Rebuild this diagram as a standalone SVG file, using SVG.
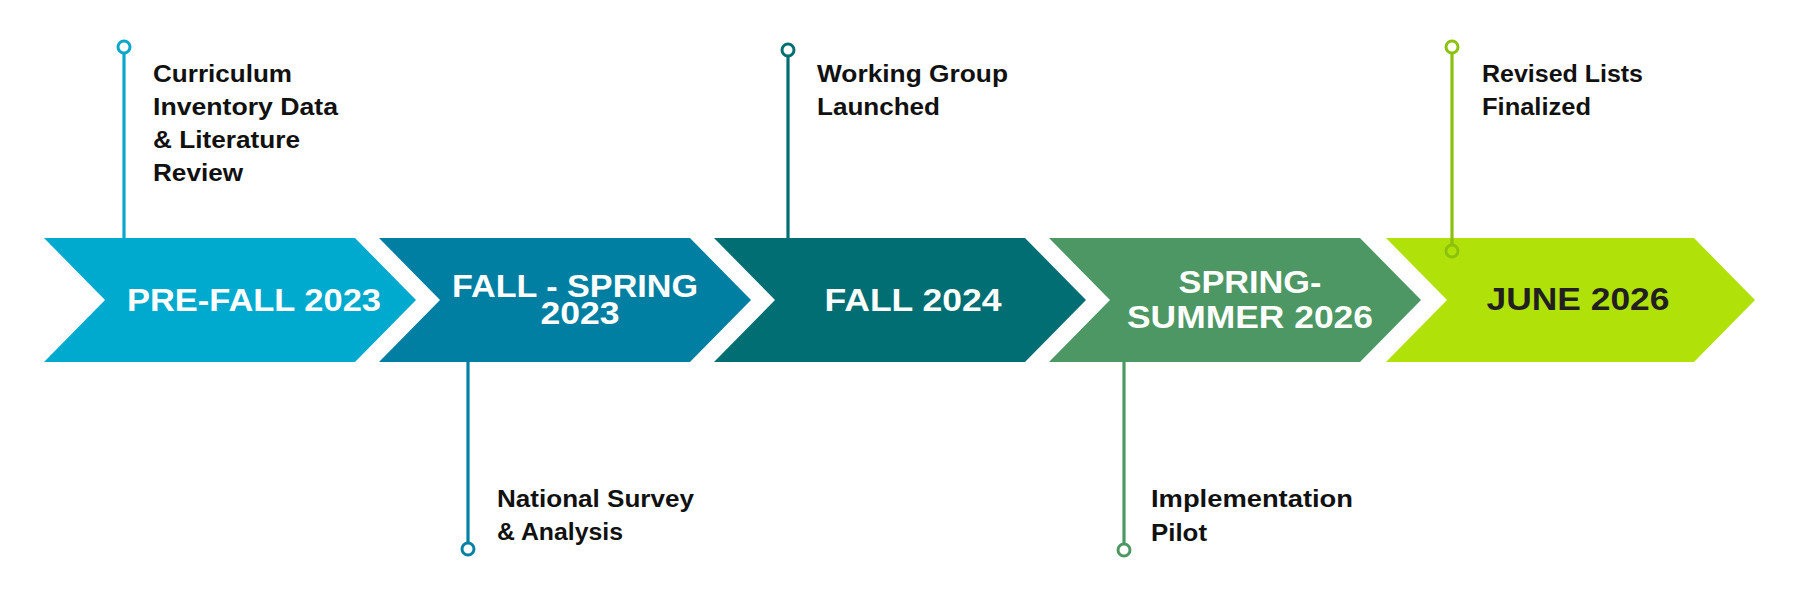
<svg xmlns="http://www.w3.org/2000/svg" width="1800" height="600" viewBox="0 0 1800 600">
<style>
.lbl{font-family:"Liberation Sans",Arial,sans-serif;font-weight:bold;font-size:31px;fill:#ffffff;text-anchor:middle}
.txt{font-family:"Liberation Sans",Arial,sans-serif;font-weight:bold;font-size:23px;fill:#111111}
.stem{stroke-width:3.2;fill:none}
.dot{stroke-width:3;fill:#ffffff}
</style>
<rect width="1800" height="600" fill="#ffffff"/>
<g id="connectors">
  <line class="stem" x1="124" y1="53" x2="124" y2="238" stroke="#0AA6CC"/>
  <circle class="dot" cx="124" cy="47" r="6" stroke="#0AA6CC"/>
  <line class="stem" x1="468" y1="362" x2="468" y2="543" stroke="#0581A5"/>
  <circle class="dot" cx="468" cy="549" r="6" stroke="#0581A5"/>
  <line class="stem" x1="788" y1="56" x2="788" y2="238" stroke="#006E72"/>
  <circle class="dot" cx="788" cy="50" r="6" stroke="#006E72"/>
  <line class="stem" x1="1124" y1="361" x2="1124" y2="544" stroke="#4C9763"/>
  <circle class="dot" cx="1124" cy="550" r="6" stroke="#4C9763"/>
</g>
<g id="n1">
  <polygon points="44,238 355,238 416,300 355,362 44,362 105,300" fill="#00AACE"/>
  <text class="lbl" x="254" y="311" textLength="254" lengthAdjust="spacingAndGlyphs">PRE-FALL 2023</text>
</g>
<g id="n2">
  <polygon points="379,238 690,238 751,300 690,362 379,362 440,300" fill="#007FA2"/>
  <text class="lbl" x="575" y="297" textLength="246" lengthAdjust="spacingAndGlyphs">FALL - SPRING</text>
  <text class="lbl" x="580" y="324" textLength="79" lengthAdjust="spacingAndGlyphs">2023</text>
</g>
<g id="n3">
  <polygon points="714,238 1025,238 1086,300 1025,362 714,362 775,300" fill="#006E72"/>
  <text class="lbl" x="913" y="311" textLength="177" lengthAdjust="spacingAndGlyphs">FALL 2024</text>
</g>
<g id="n4">
  <polygon points="1049,238 1360,238 1421,300 1360,362 1049,362 1110,300" fill="#4C9763"/>
  <text class="lbl" x="1250" y="293" textLength="143" lengthAdjust="spacingAndGlyphs">SPRING-</text>
  <text class="lbl" x="1250" y="328" textLength="246" lengthAdjust="spacingAndGlyphs">SUMMER 2026</text>
</g>
<g id="n5">
  <polygon points="1386,238 1694,238 1755,300 1694,362 1386,362 1447,300" fill="#B0E20A"/>
  <text class="lbl" x="1578" y="310" textLength="183" lengthAdjust="spacingAndGlyphs" style="fill:#231F20">JUNE 2026</text>
</g>
<g id="connector5">
  <line class="stem" x1="1452" y1="53" x2="1452" y2="245" stroke="#8CC10E"/>
  <circle class="dot" cx="1452" cy="47" r="6" stroke="#8CC10E"/>
  <circle cx="1452" cy="251" r="6" stroke="#8CC10E" stroke-width="3" fill="#B0E20A"/>
</g>
<g id="t1">
  <text class="txt" x="153" y="82" textLength="139" lengthAdjust="spacingAndGlyphs">Curriculum</text>
  <text class="txt" x="153" y="115" textLength="185" lengthAdjust="spacingAndGlyphs">Inventory Data</text>
  <text class="txt" x="153" y="148" textLength="147" lengthAdjust="spacingAndGlyphs">&amp; Literature</text>
  <text class="txt" x="153" y="181" textLength="90" lengthAdjust="spacingAndGlyphs">Review</text>
</g>
<g id="t2">
  <text class="txt" x="497" y="507" textLength="197" lengthAdjust="spacingAndGlyphs">National Survey</text>
  <text class="txt" x="497" y="540" textLength="126" lengthAdjust="spacingAndGlyphs">&amp; Analysis</text>
</g>
<g id="t3">
  <text class="txt" x="817" y="82" textLength="191" lengthAdjust="spacingAndGlyphs">Working Group</text>
  <text class="txt" x="817" y="115" textLength="123" lengthAdjust="spacingAndGlyphs">Launched</text>
</g>
<g id="t4">
  <text class="txt" x="1151" y="507" textLength="202" lengthAdjust="spacingAndGlyphs">Implementation</text>
  <text class="txt" x="1151" y="541" textLength="56" lengthAdjust="spacingAndGlyphs">Pilot</text>
</g>
<g id="t5">
  <text class="txt" x="1482" y="82" textLength="161" lengthAdjust="spacingAndGlyphs">Revised Lists</text>
  <text class="txt" x="1482" y="115" textLength="109" lengthAdjust="spacingAndGlyphs">Finalized</text>
</g>
</svg>
